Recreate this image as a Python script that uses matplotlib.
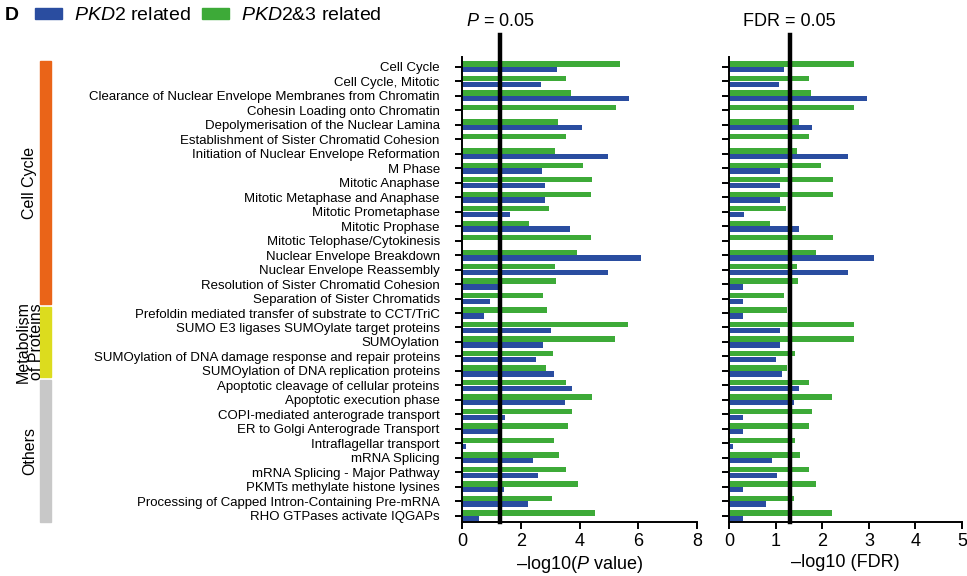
import matplotlib
matplotlib.use("Agg")
import matplotlib.pyplot as plt
import matplotlib.transforms as mtransforms
from matplotlib.patches import Patch, Rectangle
import numpy as np

plt.rcParams['font.family'] = ['Liberation Sans', 'DejaVu Sans']
plt.rcParams['mathtext.fontset'] = 'custom'
plt.rcParams['mathtext.rm'] = 'Liberation Sans'
plt.rcParams['mathtext.it'] = 'Liberation Sans:italic'

# --- data ---
pathways = [
    "Cell Cycle",
    "Cell Cycle, Mitotic",
    "Clearance of Nuclear Envelope Membranes from Chromatin",
    "Cohesin Loading onto Chromatin",
    "Depolymerisation of the Nuclear Lamina",
    "Establishment of Sister Chromatid Cohesion",
    "Initiation of Nuclear Envelope Reformation",
    "M Phase",
    "Mitotic Anaphase",
    "Mitotic Metaphase and Anaphase",
    "Mitotic Prometaphase",
    "Mitotic Prophase",
    "Mitotic Telophase/Cytokinesis",
    "Nuclear Envelope Breakdown",
    "Nuclear Envelope Reassembly",
    "Resolution of Sister Chromatid Cohesion",
    "Separation of Sister Chromatids",
    "Prefoldin mediated transfer of substrate to CCT/TriC",
    "SUMO E3 ligases SUMOylate target proteins",
    "SUMOylation",
    "SUMOylation of DNA damage response and repair proteins",
    "SUMOylation of DNA replication proteins",
    "Apoptotic cleavage of cellular proteins",
    "Apoptotic execution phase",
    "COPI-mediated anterograde transport",
    "ER to Golgi Anterograde Transport",
    "Intraflagellar transport",
    "mRNA Splicing",
    "mRNA Splicing - Major Pathway",
    "PKMTs methylate histone lysines",
    "Processing of Capped Intron-Containing Pre-mRNA",
    "RHO GTPases activate IQGAPs",
]

# -log10(P value)
p_pkd2 = [3.23, 2.68, 5.67, 0, 4.07, 0, 4.96, 2.72, 2.82, 2.81, 1.62, 3.66,
          0, 6.11, 4.96, 1.25, 0.94, 0.74, 3.03, 2.76, 2.51, 3.14,
          3.74, 3.49, 1.47, 1.22, 0.14, 2.41, 2.58, 1.44, 2.23, 0.59]
p_pkd23 = [5.37, 3.54, 3.71, 5.23, 3.27, 3.55, 3.15, 4.11, 4.43, 4.39, 2.95, 2.29,
           4.40, 3.90, 3.15, 3.20, 2.75, 2.90, 5.64, 5.20, 3.08, 2.87,
           3.53, 4.41, 3.74, 3.62, 3.12, 3.31, 3.53, 3.95, 3.05, 4.54]

# -log10(FDR)
fdr_pkd2 = [1.19, 1.07, 2.95, 0, 1.78, 0, 2.55, 1.09, 1.09, 1.09, 0.33, 1.50,
            0, 3.10, 2.55, 0.29, 0.29, 0.29, 1.09, 1.09, 1.01, 1.14,
            1.51, 1.39, 0.29, 0.29, 0.09, 0.93, 1.04, 0.29, 0.80, 0.29]
fdr_pkd23 = [2.68, 1.72, 1.76, 2.68, 1.50, 1.72, 1.45, 1.97, 2.23, 2.23, 1.22, 0.88,
             2.23, 1.86, 1.45, 1.47, 1.18, 1.24, 2.68, 2.68, 1.42, 1.24,
             1.72, 2.22, 1.77, 1.72, 1.42, 1.52, 1.72, 1.87, 1.39, 2.22]

groups = ["Cell Cycle", "Metabolism\nof Proteins", "Others"]
group_sizes = [17, 5, 10]
group_colors = ["#EA6418", "#DCDC1E", "#C8C8C8"]

blue = "#2A4DA0"
green = "#3DAA38"
cutoff = -np.log10(0.05)

# --- figure ---
fig = plt.figure(figsize=(9.67, 5.76), dpi=100)
ax1 = fig.add_axes([0.4778, 0.0938, 0.243, 0.807])
ax2 = fig.add_axes([0.7539, 0.0938, 0.241, 0.807])

y = np.arange(len(pathways))
bh = 0.37

for ax, vb, vg, xmax, step in [(ax1, p_pkd2, p_pkd23, 8, 2),
                               (ax2, fdr_pkd2, fdr_pkd23, 5, 1)]:
    ax.barh(y - 0.2, vg, height=bh, color=green)
    ax.barh(y + 0.2, vb, height=bh, color=blue)
    ax.axvline(cutoff, ymin=0, ymax=1.047, color="black", lw=3.2, clip_on=False)
    ax.set_xlim(0, xmax)
    ax.set_ylim(31.43, -0.67)
    ax.set_xticks(np.arange(0, xmax + 1, step))
    ax.set_yticks(y)
    for s in ["top", "right"]:
        ax.spines[s].set_visible(False)
    for s in ["left", "bottom"]:
        ax.spines[s].set_linewidth(1.4)
    ax.tick_params(axis="x", labelsize=13, length=5, width=1.4, pad=3)
    ax.tick_params(axis="y", length=5, width=1.4, pad=11)

ax1.set_yticklabels(pathways, fontsize=9.5)
ax2.set_yticklabels([])
ax1.set_xlabel("\u2013log10($\\mathit{P}$ value)", fontsize=13, labelpad=3)
ax2.set_xlabel("\u2013log10 (FDR)", fontsize=13, labelpad=3)

ax1.text(cutoff, -3.1, "$\\mathit{P}$ = 0.05", fontsize=13, ha="center", va="center",
         transform=ax1.transData)
ax2.text(cutoff, -3.1, "FDR = 0.05", fontsize=13, ha="center", va="center",
         transform=ax2.transData)

# --- category strips on the left ---
trans = mtransforms.blended_transform_factory(fig.transFigure, ax1.transData)
start = 0
for name, n, c in zip(groups, group_sizes, group_colors):
    ax1.add_patch(Rectangle((0.0415, start - 0.4), 0.0115, n - 0.2, color=c,
                            transform=trans, clip_on=False))
    ax1.text(0.031, start + (n - 1) / 2, name, rotation=90, fontsize=11.5,
             ha="center", va="center", linespacing=0.85, transform=trans)
    start += n

# --- legend ---
fig.text(0.005, 0.973, "D", fontsize=14, fontweight="bold", va="center")
handles = [Patch(color=blue), Patch(color=green)]
fig.legend(handles, ["$\\mathit{PKD2}$ related", "$\\mathit{PKD2}$&$\\mathit{3}$ related"],
           loc="center left", bbox_to_anchor=(0.036, 0.973), ncol=2, frameon=False,
           fontsize=14, handlelength=1.4, handleheight=0.5, handletextpad=0.6,
           columnspacing=0.6, borderpad=0, borderaxespad=0)

fig.savefig("out.png", dpi=100)
